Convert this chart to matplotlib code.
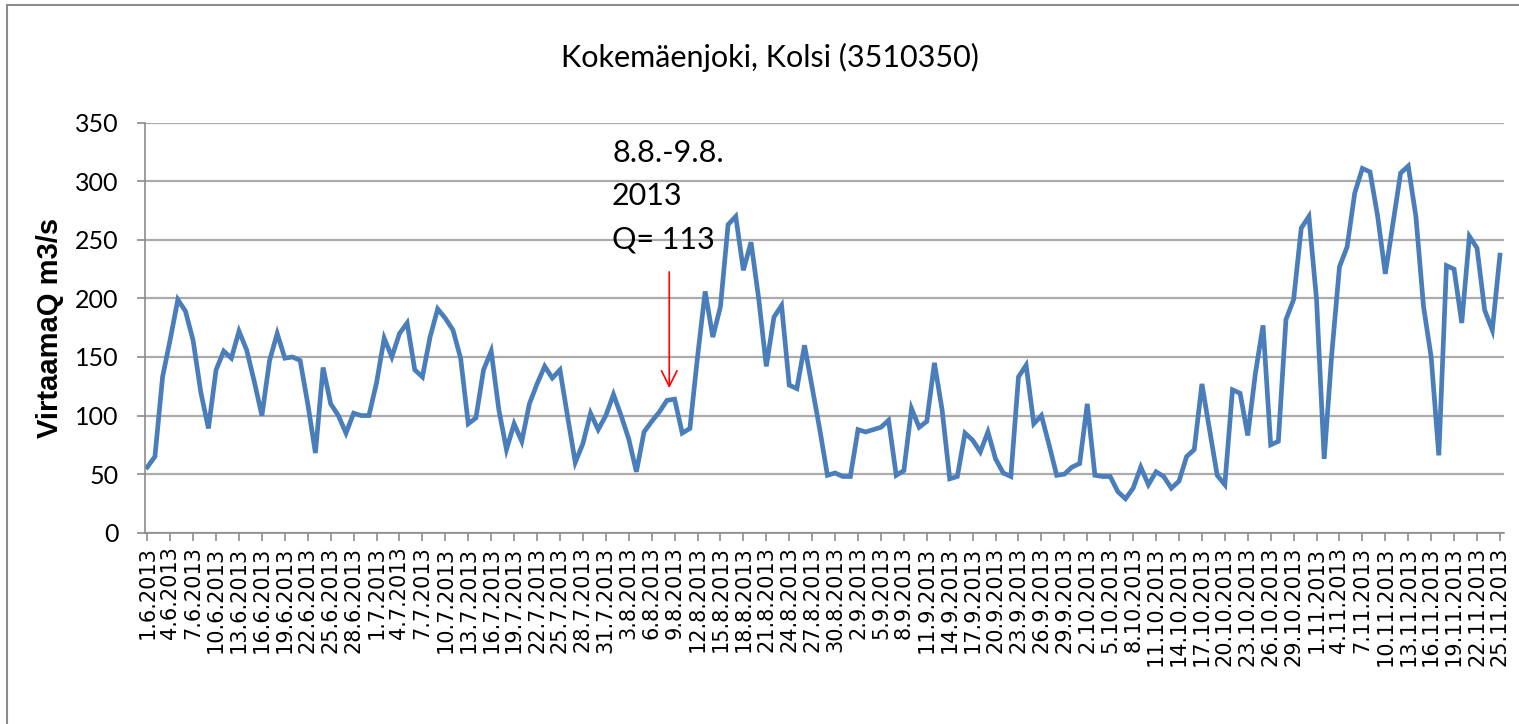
import matplotlib
matplotlib.use('Agg')
import matplotlib.pyplot as plt
from matplotlib.patches import Rectangle
import numpy as np

# Päivittäiset virtaamat 1.6.2013 - 25.11.2013 (luettu kuvasta)
virtaama = [
    56, 65, 133, 165, 199, 189, 164, 120, 89, 139,
    155, 149, 172, 156, 129, 100, 147, 170, 149, 150,
    147, 110, 68, 141, 110, 100, 85, 102, 100, 100,
    128, 166, 150, 170, 179, 139, 133, 167, 191, 183,
    173, 149, 93, 98, 139, 155, 105, 71, 93, 78,
    110, 127, 142, 132, 139, 99, 60, 76, 102, 88,
    100, 118, 100, 80, 52, 86, 95, 103, 113, 114,
    85, 89, 150, 206, 167, 193, 263, 270, 224, 248,
    200, 142, 184, 194, 126, 123, 160, 124, 88, 49,
    51, 48, 48, 88, 86, 88, 90, 96, 49, 53,
    106, 90, 95, 145, 105, 46, 48, 85, 79, 69,
    86, 63, 51, 48, 133, 143, 93, 100, 75, 49,
    50, 56, 59, 110, 49, 48, 48, 35, 29, 38,
    56, 41, 52, 48, 38, 44, 65, 71, 127, 88,
    49, 41, 122, 119, 83, 136, 177, 75, 78, 182,
    199, 260, 270, 199, 63, 153, 227, 244, 290, 311,
    308, 270, 221, 264, 307, 313, 270, 193, 150, 66,
    228, 225, 179, 253, 243, 190, 173, 237,
]

# päivämäärät
kuukaudet = [(6, 30), (7, 31), (8, 31), (9, 30), (10, 31), (11, 25)]
paivat = []
for kk, n in kuukaudet:
    for p in range(1, n + 1):
        paivat.append(f'{p}.{kk}.2013')

x = np.arange(len(virtaama))
tick_pos = x[::3]
tick_labels = [paivat[i] for i in tick_pos]

y_ticks = [0, 50, 100, 150, 200, 250, 300, 350]

otsikko = 'Kokemäenjoki, Kolsi (3510350)'
huomautus = ['8.8.-9.8.', '2013', 'Q= 113']

W, H = 1519, 724
fig = plt.figure(figsize=(W / 100, H / 100), dpi=100)
fig.patch.set_facecolor('white')

# ulkokehys
fig.patches.append(Rectangle((7 / W, -0.1), 1.2, 1 - 5 / H + 0.1, transform=fig.transFigure,
                             fill=False, edgecolor='#8c8c8c', lw=1.5))

ax = fig.add_axes([145 / W, 1 - 532.7 / H, (1504 - 145) / W, 410 / H])
ax.plot(x, virtaama, color='#4A7EBB', lw=3.4, solid_joinstyle='miter')

ax.set_xlim(-0.3, 177.53)
ax.set_ylim(0, 350)
ax.set_yticks(y_ticks)
ax.set_yticklabels([str(v) for v in y_ticks], family='Lato', fontsize=18)
ax.set_xticks(tick_pos)
ax.set_xticklabels(tick_labels, rotation=90, family='DejaVu Sans', fontsize=15)

ax.grid(axis='y', color='#ababab', lw=1.6)
ax.set_axisbelow(True)
for s in ['top', 'right']:
    ax.spines[s].set_visible(False)
ax.spines['left'].set_color('#8c8c8c')
ax.spines['bottom'].set_color('#8c8c8c')
ax.spines['left'].set_linewidth(1.2)
ax.spines['bottom'].set_linewidth(1.2)
ax.tick_params(axis='both', color='#8c8c8c', length=6, width=1.2)
ax.tick_params(axis='y', pad=13)
ax.tick_params(axis='x', pad=4)

ax.set_ylabel('VirtaamaQ m3/s', family='Liberation Sans', fontweight='bold', fontsize=21, labelpad=8)

fig.text(770 / W, 1 - 57 / H, otsikko, family='Lato', fontsize=22, ha='center', va='center')

# merkintä 8.8.-9.8.
tx = (612 - 147.3) / 7.642
for txt, ypx in zip(huomautus, [153, 196, 240]):
    ax.text(tx, (532.7 - ypx) / 1.1714, txt, family='Lato', fontsize=22, ha='left', va='center')
ax.annotate('', xy=(68.3, 121), xytext=(68.3, 225),
            arrowprops=dict(arrowstyle='->', color='red', lw=1.2, mutation_scale=28))

fig.savefig('out.png', dpi=100)
